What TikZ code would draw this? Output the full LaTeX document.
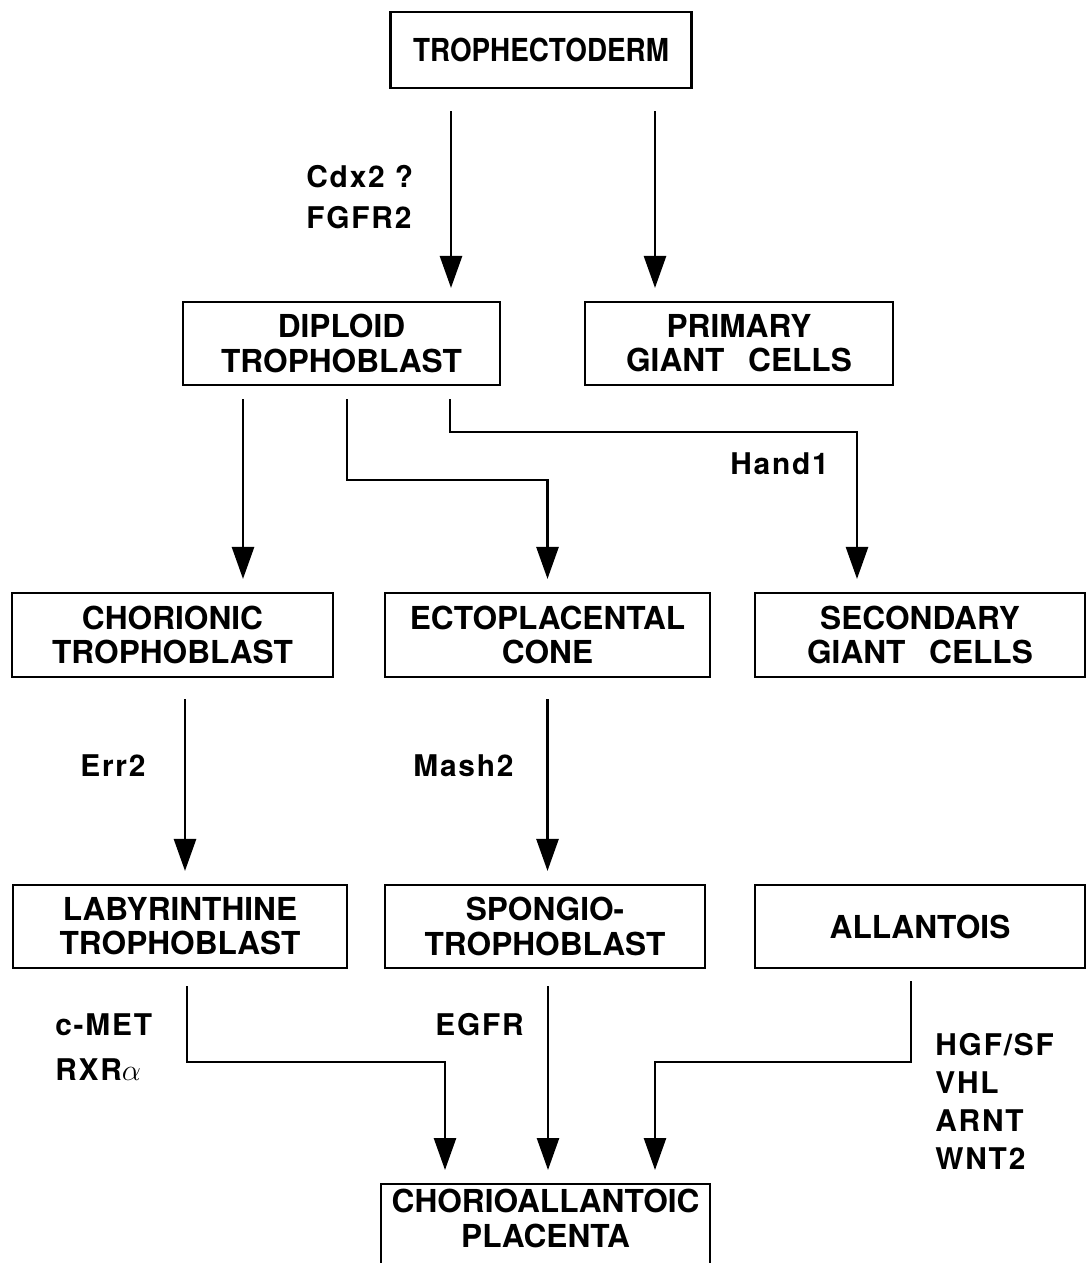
\documentclass[tikz,border=0pt]{standalone}
\usepackage{fontspec}
\setmainfont{TeX Gyre Heros}
\newfontfamily\lblfamily{TeX Gyre Heros}[LetterSpace=6]
\usetikzlibrary{arrows.meta}

\begin{document}
\begin{tikzpicture}[x=0.02cm, y=-0.02cm,
  cbox/.style={draw, line width=1.2pt, align=center, inner sep=0pt,
               font=\bfseries\fontsize{18}{19.5}\selectfont},
  lbl/.style={anchor=west, inner sep=0pt,
              font=\lblfamily\bfseries\fontsize{17}{20}\selectfont},
  arr/.style={-{Triangle[length=0.64cm, width=0.44cm]}, line width=1.5pt,
              shorten >=0.26cm}
]
\useasboundingbox (0,0) rectangle (1086,1263);

% cell types
\node[cbox, minimum width=6.02cm, minimum height=1.52cm] (tro) at (541,50)
     {\scalebox{0.88}[1]{TROPHECTODERM}};
\node[cbox, minimum width=6.34cm, minimum height=1.66cm] (dip) at (341.5,343.5)
     {DIPLOID\\TROPHOBLAST};
\node[cbox, minimum width=6.16cm, minimum height=1.66cm] (pri) at (739,343.5)
     {PRIMARY\\GIANT\hspace{0.75em}CELLS};
\node[cbox, minimum width=6.42cm, minimum height=1.68cm] (cho) at (172.5,635)
     {CHORIONIC\\TROPHOBLAST};
\node[cbox, minimum width=6.5cm, minimum height=1.68cm] (ect) at (547.5,635)
     {ECTOPLACENTAL\\CONE};
\node[cbox, minimum width=6.6cm, minimum height=1.68cm] (sec) at (920,635)
     {SECONDARY\\GIANT\hspace{0.75em}CELLS};
\node[cbox, minimum width=6.68cm, minimum height=1.66cm] (lab) at (180,926.5)
     {LABYRINTHINE\\TROPHOBLAST};
\node[cbox, minimum width=6.4cm, minimum height=1.66cm] (spo) at (545,926.5)
     {SPONGIO-\\TROPHOBLAST};
\node[cbox, minimum width=6.6cm, minimum height=1.66cm] (all) at (920,926.5)
     {ALLANTOIS};
\node[cbox, minimum width=6.58cm, anchor=north, inner ysep=3pt] (chp) at (545.5,1183)
     {CHORIOALLANTOIC\\PLACENTA\\[20pt]~};

% lineages
\draw[arr, shorten <=0.44cm] (tro.south -| 451,0) -- (dip.north -| 451,0);
\draw[arr, shorten <=0.44cm] (tro.south -| 655,0) -- (pri.north -| 655,0);
\draw[arr, shorten <=0.26cm] (dip.south -| 243,0) -- (cho.north -| 243,0);
\draw[arr, shorten <=0.26cm] (dip.south -| 347,0) |- (ect.north |- 0,480) -- (ect.north);
\draw[arr, shorten <=0.26cm] (dip.south -| 450,0) |- (857,432) -- (sec.north -| 857,0);
\draw[arr, shorten <=0.42cm] (cho.south -| 185,0) -- (lab.north -| 185,0);
\draw[arr, shorten <=0.42cm] (ect.south) -- (ect.south |- spo.north);
\draw[arr, shorten <=0.34cm] (lab.south -| 187,0) |- (445,1062) -- (chp.north -| 445,0);
\draw[arr, shorten <=0.34cm] (spo.south -| 548,0) -- (chp.north -| 548,0);
\draw[arr, shorten <=0.24cm] (all.south -| 911,0) |- (655,1062) -- (chp.north -| 655,0);

% genes
\node[lbl] (cdx) at (306,177) {Cdx2 ?};
\node[lbl] (fgf) at (306,218) {FGFR2};
\node[lbl] (hnd) at (730,464) {Hand1};
\node[lbl] (err) at (80,766) {Err2};
\node[lbl] (msh) at (413,766) {Mash2};
\node[lbl] (cmt) at (55,1025) {c-MET};
\node[lbl] (rxr) at (55,1070) {RXR$\alpha$};
\node[lbl] (egf) at (435,1025) {EGFR};
\node[lbl] (hgf) at (935,1045) {HGF/SF};
\node[lbl] (vhl) at (935,1083) {VHL};
\node[lbl] (arn) at (935,1121) {ARNT};
\node[lbl] (wnt) at (935,1159) {WNT2};
\end{tikzpicture}
\end{document}
